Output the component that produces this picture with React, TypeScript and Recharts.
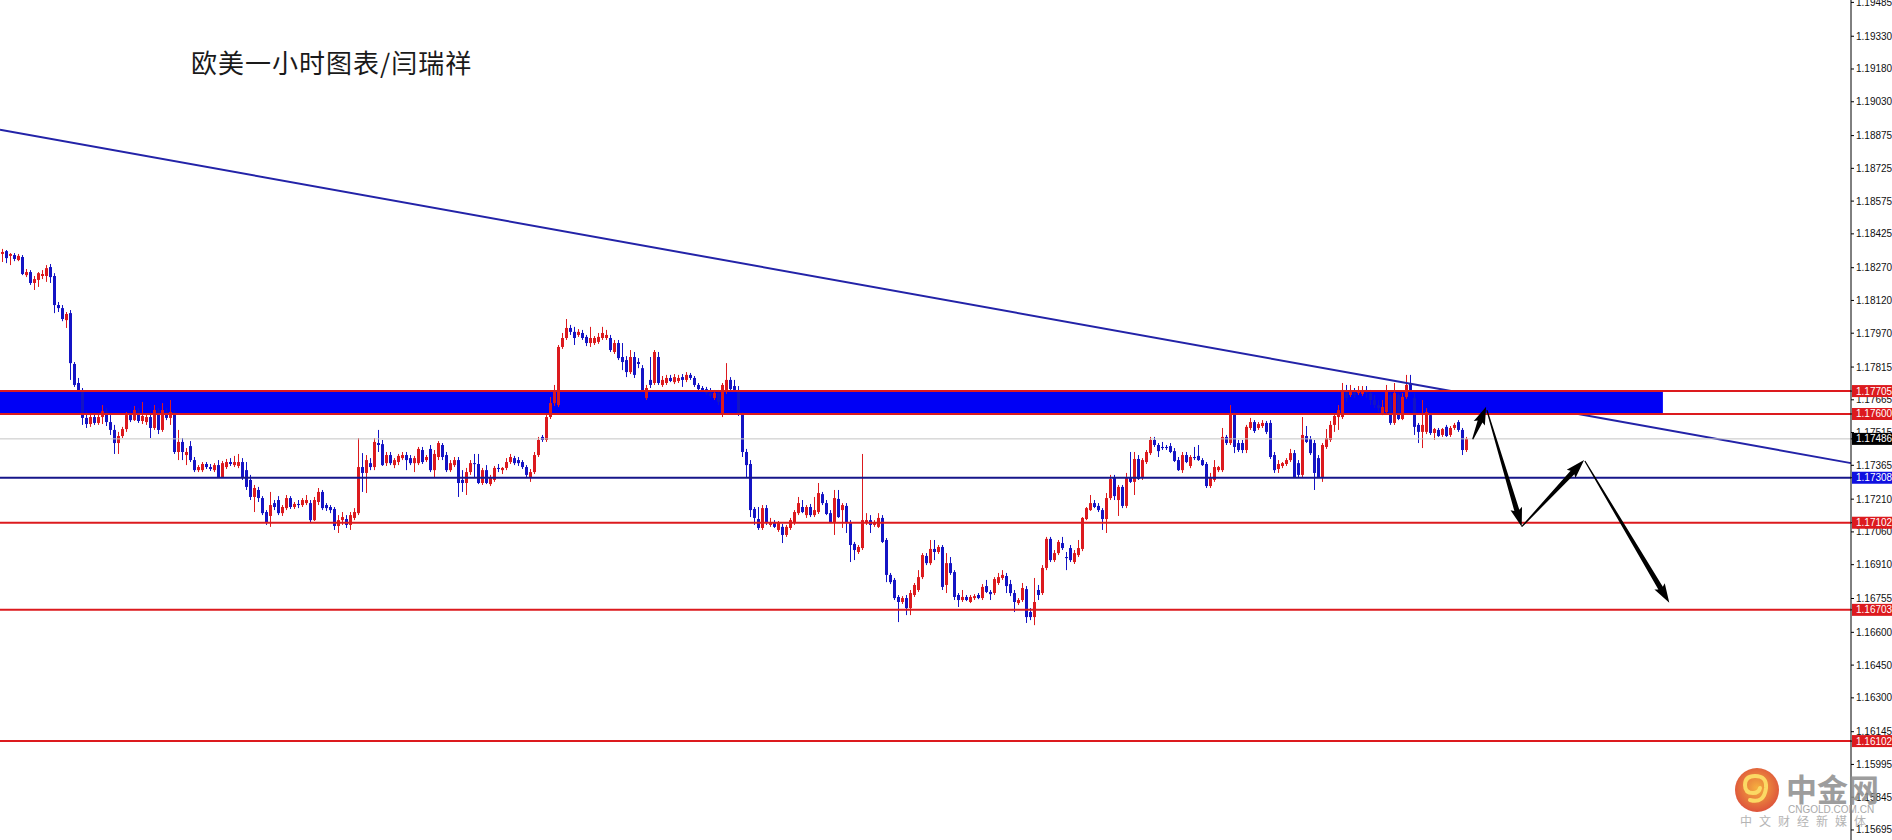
import React from 'react';
import { ComposedChart, Bar, XAxis, YAxis, ReferenceLine, ReferenceArea } from 'recharts';

// EURUSD H1 candles: [open, high, low, close]
const candles: [number, number, number, number][] = [
  [1.18333, 1.18356, 1.18296, 1.18342], [1.18346, 1.18351, 1.18291, 1.18314], [1.18324, 1.18337, 1.18282, 1.18333],
  [1.18328, 1.18337, 1.183, 1.1831], [1.18305, 1.18333, 1.183, 1.18324], [1.18319, 1.18328, 1.18236, 1.18241],
  [1.18236, 1.18264, 1.18227, 1.1825], [1.1825, 1.18259, 1.18191, 1.182], [1.182, 1.18232, 1.18168, 1.18218],
  [1.18214, 1.1825, 1.18182, 1.18245], [1.18232, 1.18259, 1.18218, 1.18241], [1.18232, 1.18282, 1.18205, 1.18268],
  [1.18273, 1.18287, 1.182, 1.18227], [1.18232, 1.18245, 1.18062, 1.18099], [1.18099, 1.18113, 1.18067, 1.18085],
  [1.18085, 1.18099, 1.18025, 1.18035], [1.1803, 1.18067, 1.17994, 1.18058], [1.18062, 1.18076, 1.17756, 1.17833],
  [1.17829, 1.17838, 1.17724, 1.17733], [1.17742, 1.17765, 1.17701, 1.1771], [1.1771, 1.17719, 1.1755, 1.17582],
  [1.17582, 1.17618, 1.17536, 1.17554], [1.17554, 1.17604, 1.17541, 1.17586], [1.17586, 1.17609, 1.1755, 1.17559],
  [1.17559, 1.176, 1.1755, 1.17586], [1.17586, 1.17641, 1.17554, 1.17613], [1.17613, 1.17627, 1.17545, 1.17563],
  [1.17563, 1.17595, 1.17504, 1.17527], [1.17527, 1.1755, 1.17417, 1.17467], [1.17467, 1.17518, 1.17417, 1.17499],
  [1.17499, 1.17541, 1.1749, 1.17531], [1.17531, 1.17609, 1.17518, 1.17595], [1.17595, 1.17618, 1.17563, 1.17572],
  [1.17572, 1.17637, 1.17568, 1.17618], [1.17618, 1.17627, 1.17559, 1.17568], [1.17568, 1.17655, 1.17554, 1.17591],
  [1.17563, 1.176, 1.1755, 1.17586], [1.17586, 1.17618, 1.1749, 1.17536], [1.17536, 1.17641, 1.17527, 1.17618],
  [1.17618, 1.17627, 1.17508, 1.17527], [1.17527, 1.1765, 1.17518, 1.17618], [1.17609, 1.17627, 1.17572, 1.17582],
  [1.17582, 1.17664, 1.1755, 1.17609], [1.17609, 1.17618, 1.17417, 1.17426], [1.17426, 1.17527, 1.17389, 1.17472],
  [1.17472, 1.1749, 1.17389, 1.17426], [1.17412, 1.17444, 1.17366, 1.17426], [1.17453, 1.17476, 1.1738, 1.17389],
  [1.17389, 1.17403, 1.17334, 1.17343], [1.17343, 1.17366, 1.17334, 1.17357], [1.17343, 1.1738, 1.17334, 1.17371],
  [1.17371, 1.1738, 1.17348, 1.17357], [1.17357, 1.17371, 1.17339, 1.17348], [1.17343, 1.17375, 1.17334, 1.17366],
  [1.17366, 1.17389, 1.17307, 1.17311], [1.17311, 1.17385, 1.17307, 1.17375], [1.17357, 1.17394, 1.17348, 1.1738],
  [1.1738, 1.17398, 1.17362, 1.17371], [1.17366, 1.17408, 1.17357, 1.1738], [1.17362, 1.17417, 1.17352, 1.1738],
  [1.1738, 1.17398, 1.17298, 1.17307], [1.17343, 1.1738, 1.17252, 1.17266], [1.17298, 1.17321, 1.17206, 1.1722],
  [1.1722, 1.17275, 1.17151, 1.17261], [1.17252, 1.17266, 1.17197, 1.17215], [1.17215, 1.17224, 1.17137, 1.17146],
  [1.17151, 1.1716, 1.17092, 1.17105], [1.17133, 1.17243, 1.17083, 1.17183], [1.17192, 1.17206, 1.1716, 1.17174],
  [1.17206, 1.17224, 1.17137, 1.17146], [1.17146, 1.17183, 1.17133, 1.17174], [1.17169, 1.17229, 1.1716, 1.17215],
  [1.17215, 1.17224, 1.17165, 1.17174], [1.17174, 1.17197, 1.17165, 1.17188], [1.17188, 1.17206, 1.17169, 1.17183],
  [1.17183, 1.17215, 1.17174, 1.17206], [1.17192, 1.17229, 1.17183, 1.17206], [1.17192, 1.17206, 1.17105, 1.17114],
  [1.17114, 1.1722, 1.1711, 1.17206], [1.17197, 1.17261, 1.17183, 1.17243], [1.17243, 1.17252, 1.1716, 1.17169],
  [1.17183, 1.17192, 1.17156, 1.17169], [1.17174, 1.17183, 1.17146, 1.1716], [1.17165, 1.17174, 1.17069, 1.17087],
  [1.17087, 1.17137, 1.17055, 1.17114], [1.17114, 1.17151, 1.17092, 1.17128], [1.17119, 1.17137, 1.17078, 1.17092],
  [1.17092, 1.17151, 1.17069, 1.17137], [1.17124, 1.17169, 1.17114, 1.17151], [1.17146, 1.1749, 1.17137, 1.17357],
  [1.17357, 1.17421, 1.17243, 1.1733], [1.1733, 1.17412, 1.17238, 1.17389], [1.17375, 1.17398, 1.17343, 1.17357],
  [1.17357, 1.1749, 1.17343, 1.17472], [1.17467, 1.17527, 1.17426, 1.17458], [1.17462, 1.17481, 1.17362, 1.17366],
  [1.17375, 1.17426, 1.17362, 1.17412], [1.17412, 1.17426, 1.17366, 1.17375], [1.17366, 1.17398, 1.17352, 1.17389],
  [1.1738, 1.17417, 1.17366, 1.17408], [1.17398, 1.17426, 1.17389, 1.17412], [1.17412, 1.17426, 1.17343, 1.17389],
  [1.17398, 1.17412, 1.17366, 1.17375], [1.17375, 1.17408, 1.17334, 1.17398], [1.17375, 1.17449, 1.17366, 1.1744],
  [1.17435, 1.17449, 1.17371, 1.1738], [1.17389, 1.17412, 1.1738, 1.17403], [1.1744, 1.17458, 1.17334, 1.17343],
  [1.17343, 1.17435, 1.17311, 1.17417], [1.17403, 1.17476, 1.17389, 1.17467], [1.17458, 1.17467, 1.17389, 1.17403],
  [1.17412, 1.17426, 1.17334, 1.17343], [1.17343, 1.17389, 1.17334, 1.17375], [1.17366, 1.17403, 1.17357, 1.17389],
  [1.17389, 1.17403, 1.1722, 1.17284], [1.17298, 1.17343, 1.17243, 1.17284], [1.17284, 1.17353, 1.17229, 1.17334],
  [1.17334, 1.17389, 1.17321, 1.17375], [1.17375, 1.17417, 1.17307, 1.17371], [1.17371, 1.17417, 1.17279, 1.17284],
  [1.17284, 1.17353, 1.17275, 1.17343], [1.17343, 1.17366, 1.17279, 1.17284], [1.17279, 1.17321, 1.1727, 1.17307],
  [1.17298, 1.17362, 1.17289, 1.17353], [1.17353, 1.17371, 1.17334, 1.17348], [1.17343, 1.17357, 1.17325, 1.17353],
  [1.17353, 1.17398, 1.17343, 1.1738], [1.1738, 1.17417, 1.17371, 1.17403], [1.17398, 1.17408, 1.17366, 1.17375],
  [1.17389, 1.17403, 1.17362, 1.17375], [1.1738, 1.17389, 1.17348, 1.17357], [1.17357, 1.17366, 1.17307, 1.17321],
  [1.17311, 1.17348, 1.17289, 1.17334], [1.17334, 1.17426, 1.17325, 1.17412], [1.17412, 1.17495, 1.17403, 1.17481],
  [1.17495, 1.17504, 1.17472, 1.17481], [1.17481, 1.17595, 1.17472, 1.17586], [1.17586, 1.17678, 1.17577, 1.1765],
  [1.1765, 1.17733, 1.17637, 1.1771], [1.17641, 1.17916, 1.17632, 1.17907], [1.17907, 1.17971, 1.17898, 1.17948],
  [1.17948, 1.18035, 1.17939, 1.17994], [1.17994, 1.18008, 1.17962, 1.17976], [1.17976, 1.17999, 1.17916, 1.17948],
  [1.17962, 1.17989, 1.17953, 1.17976], [1.17971, 1.17985, 1.17939, 1.17948], [1.17953, 1.17962, 1.17911, 1.17925],
  [1.17925, 1.17999, 1.17907, 1.17948], [1.17925, 1.17957, 1.17916, 1.17948], [1.1793, 1.17971, 1.17921, 1.17953],
  [1.17948, 1.17999, 1.17939, 1.17971], [1.17948, 1.17985, 1.17939, 1.17962], [1.17948, 1.17962, 1.17884, 1.17893],
  [1.17884, 1.17939, 1.17875, 1.17925], [1.17925, 1.17939, 1.17847, 1.17856], [1.17861, 1.17925, 1.17801, 1.17838],
  [1.17847, 1.17865, 1.17769, 1.17792], [1.17792, 1.17893, 1.17783, 1.17861], [1.17861, 1.17884, 1.17765, 1.17779],
  [1.17838, 1.17856, 1.1781, 1.17829], [1.1781, 1.17824, 1.17701, 1.1771], [1.17673, 1.17733, 1.17664, 1.17719],
  [1.17756, 1.17861, 1.17719, 1.17733], [1.17742, 1.17893, 1.17733, 1.17884], [1.17861, 1.17884, 1.17733, 1.17742],
  [1.17733, 1.17774, 1.17724, 1.17756], [1.17742, 1.17779, 1.17733, 1.17765], [1.17765, 1.17779, 1.17746, 1.17751],
  [1.17746, 1.17783, 1.17737, 1.17769], [1.17751, 1.17779, 1.17742, 1.17765], [1.17769, 1.17783, 1.17724, 1.17756],
  [1.17756, 1.17792, 1.17746, 1.17779], [1.17779, 1.17788, 1.17756, 1.17765], [1.17765, 1.17774, 1.17724, 1.17733],
  [1.17733, 1.17742, 1.17705, 1.17714], [1.17719, 1.17728, 1.17701, 1.1771], [1.17714, 1.17724, 1.17687, 1.17696],
  [1.17696, 1.17719, 1.17673, 1.17683], [1.17673, 1.1771, 1.17664, 1.17696], [1.17696, 1.1771, 1.17641, 1.17655],
  [1.17604, 1.17742, 1.17586, 1.17733], [1.1771, 1.17833, 1.17692, 1.17756], [1.17756, 1.17769, 1.17701, 1.17714],
  [1.17728, 1.17756, 1.17701, 1.1771], [1.1771, 1.17728, 1.17591, 1.17604], [1.176, 1.17609, 1.17403, 1.17426],
  [1.17426, 1.1744, 1.17311, 1.17366], [1.17371, 1.17389, 1.17128, 1.1716], [1.17165, 1.17174, 1.17092, 1.17124],
  [1.17119, 1.17174, 1.17069, 1.17078], [1.17078, 1.17183, 1.17069, 1.17169], [1.17169, 1.17183, 1.17092, 1.17105],
  [1.17092, 1.17124, 1.17083, 1.17105], [1.17105, 1.17114, 1.17078, 1.17083], [1.17069, 1.1711, 1.1706, 1.17101],
  [1.17083, 1.17096, 1.17009, 1.17046], [1.17046, 1.17092, 1.17037, 1.17083], [1.17078, 1.17124, 1.17069, 1.17114],
  [1.17101, 1.1716, 1.17092, 1.17151], [1.17146, 1.1722, 1.17137, 1.17192], [1.17174, 1.17206, 1.17146, 1.17151],
  [1.17137, 1.17183, 1.17124, 1.17174], [1.17174, 1.17188, 1.17128, 1.17137], [1.17137, 1.1722, 1.17128, 1.1716],
  [1.17151, 1.17284, 1.17142, 1.17238], [1.17233, 1.17243, 1.17183, 1.17192], [1.17192, 1.17206, 1.17137, 1.17142],
  [1.17146, 1.1716, 1.17101, 1.17105], [1.17105, 1.17252, 1.17046, 1.17215], [1.17211, 1.17252, 1.17124, 1.17128],
  [1.1716, 1.17192, 1.17078, 1.17183], [1.17179, 1.17192, 1.17055, 1.17105], [1.17105, 1.17114, 1.16922, 1.17],
  [1.17005, 1.17014, 1.16931, 1.16977], [1.16968, 1.17, 1.16959, 1.16991], [1.16986, 1.17417, 1.16977, 1.17114],
  [1.17101, 1.17146, 1.17092, 1.17114], [1.17114, 1.17137, 1.17055, 1.17092], [1.17092, 1.17114, 1.17083, 1.17105],
  [1.17083, 1.17146, 1.17078, 1.17124], [1.17124, 1.17137, 1.17009, 1.17014], [1.17023, 1.17032, 1.1683, 1.16863],
  [1.16863, 1.16872, 1.16821, 1.1683], [1.1684, 1.16849, 1.16748, 1.16757], [1.16762, 1.16771, 1.16647, 1.16739],
  [1.16739, 1.16766, 1.1673, 1.16757], [1.16757, 1.16771, 1.16679, 1.16711], [1.16711, 1.16794, 1.16679, 1.1678],
  [1.16771, 1.16826, 1.16762, 1.16817], [1.16794, 1.16885, 1.16785, 1.16853], [1.16853, 1.16963, 1.16844, 1.16954],
  [1.1695, 1.16963, 1.16908, 1.16917], [1.16917, 1.17023, 1.16908, 1.16982], [1.16982, 1.17023, 1.16931, 1.16968],
  [1.16968, 1.17, 1.16959, 1.16991], [1.16991, 1.17, 1.16794, 1.16808], [1.16817, 1.16963, 1.1678, 1.16917],
  [1.16917, 1.16945, 1.16863, 1.16872], [1.16876, 1.16885, 1.16748, 1.16762], [1.16771, 1.1678, 1.16716, 1.16748],
  [1.16748, 1.16794, 1.16739, 1.16762], [1.16762, 1.16771, 1.16743, 1.16748], [1.16739, 1.16771, 1.16734, 1.16762],
  [1.16757, 1.16775, 1.16748, 1.16766], [1.16771, 1.1678, 1.16752, 1.16757], [1.16757, 1.16821, 1.16748, 1.16808],
  [1.16812, 1.1684, 1.1678, 1.16785], [1.16785, 1.16794, 1.16748, 1.16775], [1.1678, 1.16853, 1.16771, 1.16844],
  [1.16826, 1.16872, 1.16817, 1.16853], [1.16849, 1.16885, 1.1684, 1.16863], [1.16858, 1.16872, 1.1678, 1.16812],
  [1.16821, 1.1684, 1.16766, 1.1678], [1.1678, 1.16794, 1.16693, 1.16739], [1.16734, 1.16757, 1.16725, 1.16748],
  [1.16748, 1.16826, 1.16739, 1.16803], [1.16798, 1.16812, 1.16643, 1.1667], [1.16693, 1.16711, 1.16656, 1.1667],
  [1.1667, 1.16849, 1.16633, 1.16739], [1.16794, 1.16817, 1.16748, 1.16771], [1.1678, 1.16908, 1.16771, 1.16895],
  [1.16895, 1.17037, 1.16885, 1.17028], [1.17028, 1.17037, 1.16922, 1.16931], [1.16931, 1.16977, 1.16922, 1.16963],
  [1.16963, 1.17023, 1.16954, 1.17014], [1.17009, 1.17037, 1.16977, 1.16986], [1.16945, 1.16968, 1.16885, 1.1694],
  [1.16986, 1.17, 1.16922, 1.16931], [1.16922, 1.16977, 1.16913, 1.16963], [1.16954, 1.17023, 1.16945, 1.16986],
  [1.16982, 1.17128, 1.16972, 1.17124], [1.17119, 1.17174, 1.17114, 1.17169], [1.1716, 1.17229, 1.17156, 1.17192],
  [1.17192, 1.17206, 1.17169, 1.17174], [1.17179, 1.17192, 1.17151, 1.1716], [1.1716, 1.17169, 1.17069, 1.17119],
  [1.17119, 1.17238, 1.17055, 1.17215], [1.17215, 1.17321, 1.17206, 1.17302], [1.17311, 1.17321, 1.17206, 1.17224],
  [1.17206, 1.17275, 1.17133, 1.17266], [1.17266, 1.17275, 1.17169, 1.17179], [1.17179, 1.1733, 1.17169, 1.17307],
  [1.17307, 1.17426, 1.17284, 1.17289], [1.17289, 1.17426, 1.17229, 1.17394], [1.17394, 1.17412, 1.17298, 1.17302],
  [1.17307, 1.17398, 1.17298, 1.17389], [1.1738, 1.17435, 1.17371, 1.17426], [1.17421, 1.17495, 1.17412, 1.17481],
  [1.17481, 1.17495, 1.17449, 1.17458], [1.17458, 1.17467, 1.17403, 1.1743], [1.17449, 1.17472, 1.17435, 1.17444],
  [1.17449, 1.17458, 1.17435, 1.17444], [1.17453, 1.17467, 1.17421, 1.17426], [1.1743, 1.17444, 1.1738, 1.17385],
  [1.17389, 1.17403, 1.17339, 1.17343], [1.17343, 1.17426, 1.1733, 1.17412], [1.17412, 1.17426, 1.17375, 1.1738],
  [1.17362, 1.17412, 1.17352, 1.17403], [1.17403, 1.17449, 1.17389, 1.17398], [1.17408, 1.17458, 1.17385, 1.17389],
  [1.17389, 1.17398, 1.17362, 1.17366], [1.17371, 1.1738, 1.17261, 1.1727], [1.1727, 1.1733, 1.17261, 1.17311],
  [1.17298, 1.17389, 1.17289, 1.17357], [1.17343, 1.17362, 1.17334, 1.17357], [1.17343, 1.17536, 1.17334, 1.17495],
  [1.17495, 1.17504, 1.17458, 1.17467], [1.17467, 1.17641, 1.17458, 1.17604], [1.17604, 1.17618, 1.17421, 1.17449],
  [1.17467, 1.17481, 1.17426, 1.17435], [1.17467, 1.17481, 1.17421, 1.17435], [1.17435, 1.1755, 1.17421, 1.17541],
  [1.17536, 1.17582, 1.17527, 1.17563], [1.17563, 1.17572, 1.17513, 1.17522], [1.17536, 1.17563, 1.17527, 1.17554],
  [1.17545, 1.17572, 1.17536, 1.17559], [1.17559, 1.17568, 1.17508, 1.17518], [1.17559, 1.17572, 1.17394, 1.17403],
  [1.17412, 1.17426, 1.1733, 1.17343], [1.17348, 1.17389, 1.1733, 1.17371], [1.17362, 1.1738, 1.17352, 1.17375],
  [1.17371, 1.17398, 1.17362, 1.17389], [1.17389, 1.1744, 1.1738, 1.17421], [1.17421, 1.17435, 1.17307, 1.17311],
  [1.17375, 1.17389, 1.17311, 1.17321], [1.17321, 1.17586, 1.17311, 1.17504], [1.17499, 1.17545, 1.17467, 1.17472],
  [1.17485, 1.17499, 1.17412, 1.17421], [1.17467, 1.17481, 1.17252, 1.1733], [1.17398, 1.17412, 1.17307, 1.17311],
  [1.17307, 1.17467, 1.17289, 1.17458], [1.17449, 1.17531, 1.1744, 1.1749], [1.17481, 1.17568, 1.17472, 1.1755],
  [1.1755, 1.17595, 1.17518, 1.17591], [1.17586, 1.17641, 1.17527, 1.17618], [1.17586, 1.17742, 1.17577, 1.1771],
  [1.17701, 1.17733, 1.17655, 1.17673], [1.17687, 1.17733, 1.17678, 1.1771], [1.17701, 1.17719, 1.17673, 1.17687],
  [1.17696, 1.17728, 1.17687, 1.1771], [1.17692, 1.17728, 1.17683, 1.1771], [1.1771, 1.17728, 1.17673, 1.17696],
  [1.17696, 1.1771, 1.17641, 1.17664], [1.17664, 1.17687, 1.17627, 1.17641], [1.17641, 1.17664, 1.17609, 1.17627],
  [1.17604, 1.17664, 1.17595, 1.17632], [1.17609, 1.17733, 1.176, 1.17701], [1.17687, 1.17696, 1.1755, 1.17559],
  [1.17559, 1.17742, 1.1755, 1.17696], [1.17687, 1.17696, 1.17572, 1.17577], [1.17577, 1.17696, 1.17572, 1.17678],
  [1.17678, 1.17779, 1.17669, 1.17733], [1.17742, 1.17779, 1.17701, 1.1771], [1.17673, 1.17696, 1.17504, 1.17541],
  [1.1755, 1.17559, 1.17467, 1.17518], [1.17518, 1.17664, 1.17444, 1.1755], [1.17518, 1.17627, 1.17508, 1.17609],
  [1.17595, 1.17604, 1.17504, 1.17513], [1.17513, 1.17536, 1.17481, 1.17531], [1.17527, 1.17536, 1.17495, 1.17499],
  [1.17504, 1.17536, 1.17495, 1.17531], [1.17541, 1.1755, 1.17495, 1.17499], [1.17504, 1.17545, 1.17495, 1.17536],
  [1.17536, 1.17559, 1.17527, 1.1755], [1.17563, 1.17572, 1.17518, 1.17527], [1.17527, 1.17536, 1.17412, 1.17435],
  [1.17435, 1.17495, 1.17426, 1.17486],
];

const yDomain = [1.15649, 1.19496];
const xDomain = [-0.625, 462.125];

const axisTicks = [
  1.19485, 1.1933, 1.1918, 1.1903, 1.18875, 1.18725, 1.18575, 1.18425, 1.1827, 1.1812, 1.1797, 1.17815, 1.17665,
  1.17515, 1.17365, 1.1721, 1.1706, 1.1691, 1.16755, 1.166, 1.1645, 1.163, 1.16145, 1.15995, 1.15845, 1.15695,
];

const RED = '#dc1a1e';
const BLUE = '#1414c4';
const NAVY = '#16168a';

// horizontal levels drawn on the chart
const redLevels = [1.17705, 1.176, 1.17102, 1.16703, 1.16102];
const blueLevel = 1.17308;
const bidLevel = 1.17486;

// price tags on the right scale
const priceTags = [
  { value: 1.17705, color: RED },
  { value: 1.176, color: RED },
  { value: 1.17486, color: '#000000' },
  { value: 1.17308, color: '#1010e0' },
  { value: 1.17102, color: RED },
  { value: 1.16703, color: RED },
  { value: 1.16102, color: RED },
];

// resistance zone
const zone = { x1: -0.625, x2: 415.1, y1: 1.176, y2: 1.17705 };
// falling trend line, visible parts above and below the zone (it runs behind the zone)
const trendLineUpper = [
  { x: -0.625, y: 1.18902 },
  { x: 362.13, y: 1.17705 },
];
const trendLineLower = [
  { x: 393.94, y: 1.176 },
  { x: 462.125, y: 1.17375 },
];

// forecast arrows, [from, to]
const arrows = [
  [{ x: 367.55, y: 1.17484 }, { x: 370.9, y: 1.17633 }],
  [{ x: 371.1, y: 1.17618 }, { x: 379.8, y: 1.17084 }],
  [{ x: 379.8, y: 1.17084 }, { x: 395.4, y: 1.17389 }],
  [{ x: 395.6, y: 1.17385 }, { x: 416.7, y: 1.16736 }],
];

const data = candles.map(([o, h, l, c], i) => ({ i, o, h, l, c, range: [l, h] }));
const tagValues = priceTags.map((t) => t.value);

const Candle = (props: any) => {
  const { x, y, width, height, payload } = props;
  if (x == null || !payload || !isFinite(y)) return null;
  const { o, h, l, c } = payload;
  const top = Math.min(y, y + height);
  const span = Math.abs(height);
  const toPx = (v: number) => top + ((h - v) / (h - l)) * span;
  const cx = Math.round(x + width / 2 - 0.5) + 0.5;
  const color = c >= o ? RED : BLUE;
  const yo = toPx(o);
  const yc = toPx(c);
  const bt = Math.min(yo, yc);
  const bh = Math.max(Math.abs(yo - yc), 1);
  return (
    <g>
      <line x1={cx} x2={cx} y1={top} y2={top + span} stroke={color} strokeWidth={1} />
      <rect x={cx - 1.5} y={bt} width={3} height={bh} fill={color} />
    </g>
  );
};

const PriceTick = (props: any) => {
  const { x, y, payload } = props;
  const v = payload.value as number;
  const tag = priceTags.find((t) => t.value === v);
  const label = v.toFixed(5);
  if (tag) {
    return (
      <g>
        <rect x={x - 4} y={y - 6} width={41} height={12} fill={tag.color} />
        <text x={x} y={y} dy={3.5} fontSize={10} fill="#ffffff" fontFamily="Liberation Sans, Arial">
          {label}
        </text>
      </g>
    );
  }
  return (
    <text x={x} y={y} dy={3.5} fontSize={10} fill="#111" fontFamily="Liberation Sans, Arial">
      {label}
    </text>
  );
};

const Arrow = (props: any) => {
  const { x1, y1, x2, y2 } = props;
  if (![x1, y1, x2, y2].every((n) => isFinite(n))) return null;
  const dx = x2 - x1;
  const dy = y2 - y1;
  const len = Math.hypot(dx, dy);
  const ux = dx / len;
  const uy = dy / len;
  const nx = -uy;
  const ny = ux;
  const head = Math.min(17, len * 0.45);
  const bx = x2 - ux * head;
  const by = y2 - uy * head;
  const pts = [
    [x1 + nx * 0.6, y1 + ny * 0.6],
    [bx + nx * 2.6, by + ny * 2.6],
    [bx - ux * 2 + nx * 6, by - uy * 2 + ny * 6],
    [x2, y2],
    [bx - ux * 2 - nx * 6, by - uy * 2 - ny * 6],
    [bx - nx * 2.6, by - ny * 2.6],
    [x1 - nx * 0.6, y1 - ny * 0.6],
  ];
  return <polygon points={pts.map((p) => p.join(',')).join(' ')} fill="#000" />;
};

const Logo = () => (
  <svg width={1892} height={840} style={{ position: 'absolute', left: 0, top: 0, pointerEvents: 'none' }}>
    <defs>
      <radialGradient id="lg" cx="50%" cy="45%" r="55%">
        <stop offset="0%" stopColor="#f4a21e" />
        <stop offset="100%" stopColor="#d8361a" />
      </radialGradient>
    </defs>
    <g opacity={0.85}>
      <circle cx={1757} cy={790} r={22} fill="url(#lg)" />
      <path
        d="M1750 800 q14 4 16 -12 q1 -12 -11 -12 q-10 0 -10 9 q0 8 8 8 q6 0 7 -5"
        fill="none"
        stroke="#fbd34a"
        strokeWidth={4}
        strokeLinecap="round"
      />
      <text x={1786} y={801} fontSize={31} fontWeight={700} fill="#8c8c8c" fontFamily="Noto Sans CJK SC">
        中金网
      </text>
      <text x={1788} y={813} fontSize={10} fill="#9a9a9a" fontFamily="Liberation Sans, Arial">
        CNGOLD.COM.CN
      </text>
      <text x={1740} y={826} fontSize={12} fill="#a8a8a8" letterSpacing={7} fontFamily="Noto Sans CJK SC">
        中文财经新媒体
      </text>
    </g>
  </svg>
);

export default function App() {
  return (
    <div style={{ position: 'absolute', left: 0, top: 0, width: 1892, height: 840, background: '#fff' }}>
      <ComposedChart width={1892} height={840} data={data} margin={{ top: 0, right: 0, bottom: 0, left: 0 }}>
        <XAxis dataKey="i" type="number" domain={xDomain} allowDataOverflow hide />
        <YAxis
          orientation="right"
          width={41}
          type="number"
          domain={yDomain}
          allowDataOverflow
          ticks={[...axisTicks, ...tagValues]}
          interval={0}
          tickSize={3}
          tickMargin={2}
          tick={<PriceTick />}
          axisLine={{ stroke: '#000' }}
          tickLine={{ stroke: '#000' }}
        />
        <ReferenceArea
          x1={zone.x1}
          x2={zone.x2}
          y1={zone.y1}
          y2={zone.y2}
          fill="#0000f5"
          fillOpacity={1}
          stroke="none"
          ifOverflow="visible"
        />
        <ReferenceLine segment={trendLineUpper} stroke="#2323a8" strokeWidth={2} ifOverflow="visible" />
        <ReferenceLine segment={trendLineLower} stroke="#2323a8" strokeWidth={2} ifOverflow="visible" />
        <ReferenceLine y={bidLevel} stroke="#c4c4c4" strokeWidth={1} />
        <ReferenceLine y={blueLevel} stroke={NAVY} strokeWidth={2} />
        {redLevels.map((v) => (
          <ReferenceLine key={v} y={v} stroke={RED} strokeWidth={2} />
        ))}
        <Bar dataKey="range" barSize={3} shape={<Candle />} isAnimationActive={false} />
        {arrows.map((seg, k) => (
          <ReferenceLine key={k} segment={seg} ifOverflow="visible" shape={(p: any) => <Arrow {...p} />} />
        ))}
      </ComposedChart>
      <div
        style={{
          position: 'absolute',
          left: 191,
          top: 49,
          fontSize: 26,
          lineHeight: '26px',
          letterSpacing: 1,
          color: '#1a1a1a',
          fontFamily: '"Noto Sans CJK SC"',
          whiteSpace: 'nowrap',
        }}
      >
        欧美一小时图表/闫瑞祥
      </div>
      <Logo />
    </div>
  );
}
